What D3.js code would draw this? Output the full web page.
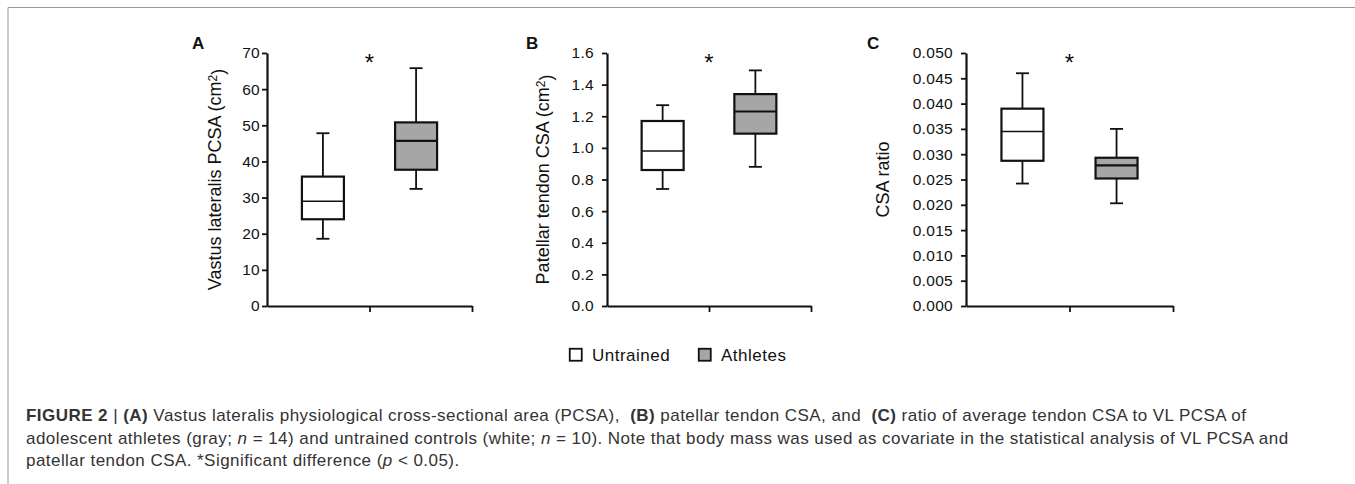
<!DOCTYPE html>
<html>
<head>
<meta charset="utf-8">
<script src="https://cdnjs.cloudflare.com/ajax/libs/d3/7.8.5/d3.min.js"></script>
<style>
  body { margin: 0; background: #fff; }
  svg { display: block; font-family: "Liberation Sans", Arial, sans-serif; }
</style>
</head>
<body>
<svg width="1355" height="484"></svg>
<script>
// box stats per group: [min, q1, median, q3, max]
var groups = ["Untrained", "Athletes"];
var vlPcsaUntrained = [18.6, 24.0, 29.0, 35.8, 47.8];
var vlPcsaAthletes  = [32.4, 37.7, 45.7, 50.8, 65.8];
var tendonUntrained = [0.74, 0.86, 0.98, 1.17, 1.27];
var tendonAthletes  = [0.88, 1.09, 1.23, 1.34, 1.49];
var ratioUntrained  = [0.0242, 0.0287, 0.0345, 0.0390, 0.0460];
var ratioAthletes   = [0.0203, 0.0252, 0.0278, 0.0293, 0.0350];

var vlTicks     = [0, 10, 20, 30, 40, 50, 60, 70];
var tendonTicks = [0, 0.2, 0.4, 0.6, 0.8, 1.0, 1.2, 1.4, 1.6];
var ratioTicks  = [0, 0.005, 0.010, 0.015, 0.020, 0.025, 0.030, 0.035, 0.040, 0.045, 0.050];

var fills = {Untrained: "#ffffff", Athletes: "#a6a6a6"};

var svg = d3.select("svg"),
    yTop = 53, yBottom = 306,
    ink = "#111";

// frame
svg.append("path")
    .attr("d", "M8,484V7.5H1355")
    .attr("fill", "none")
    .attr("stroke", "#9a9a9a")
    .attr("stroke-width", 1);

var panels = [
  {letter: "A", stats: [vlPcsaUntrained, vlPcsaAthletes], ticks: vlTicks, fmt: d3.format("d"),
   title: "Vastus lateralis PCSA (cm", sup: true, x0: 267, x1: 472, titleX: 215, letterX: 192, pad: 2},
  {letter: "B", stats: [tendonUntrained, tendonAthletes], ticks: tendonTicks, fmt: d3.format(".1f"),
   title: "Patellar tendon CSA (cm", sup: true, x0: 607, x1: 811, titleX: 543, letterX: 526, pad: 8},
  {letter: "C", stats: [ratioUntrained, ratioAthletes], ticks: ratioTicks, fmt: d3.format(".3f"),
   title: "CSA ratio", sup: false, x0: 966, x1: 1173, titleX: 883, letterX: 867, pad: 8}
];

panels.forEach(function(p) {
    var g = svg.append("g");

    var y = d3.scaleLinear()
        .domain([0, d3.max(p.ticks)])
        .range([yBottom, yTop]);

    var x = d3.scalePoint()
        .domain(groups)
        .range([p.x0, p.x1])
        .padding(0.6);

    var xAxisScale = d3.scaleLinear().domain([0, 2]).range([p.x0, p.x1]);

    // y axis
    var ya = g.append("g")
        .attr("transform", "translate(" + p.x0 + ",0)")
        .call(d3.axisLeft(y)
            .tickValues(p.ticks)
            .tickFormat(p.fmt)
            .tickSize(5)
            .tickSizeOuter(0)
            .tickPadding(p.pad));
    ya.select(".domain").attr("stroke", ink).attr("stroke-width", 2.2);
    ya.selectAll(".tick line").attr("stroke", ink).attr("stroke-width", 1.8);
    ya.selectAll(".tick text").attr("fill", ink).style("font-size", "15.5px").style("letter-spacing", "0.3px");

    // x axis
    var xa = g.append("g")
        .attr("transform", "translate(0," + yBottom + ")")
        .call(d3.axisBottom(xAxisScale)
            .tickValues([1, 2])
            .tickFormat("")
            .tickSize(6)
            .tickSizeOuter(0));
    xa.select(".domain").attr("stroke", ink).attr("stroke-width", 2.2);
    xa.selectAll(".tick line").attr("stroke", ink).attr("stroke-width", 1.8);

    // boxes
    var boxW = 42, capW = 13;
    groups.forEach(function(grp, i) {
        var s = p.stats[i], cx = x(grp);
        var b = g.append("g");
        b.append("line")
            .attr("x1", cx).attr("x2", cx)
            .attr("y1", y(s[0])).attr("y2", y(s[4]))
            .attr("stroke", ink).attr("stroke-width", 1.8);
        [s[0], s[4]].forEach(function(v) {
            b.append("line")
                .attr("x1", cx - capW / 2).attr("x2", cx + capW / 2)
                .attr("y1", y(v)).attr("y2", y(v))
                .attr("stroke", ink).attr("stroke-width", 1.8);
        });
        b.append("rect")
            .attr("x", cx - boxW / 2)
            .attr("y", y(s[3]))
            .attr("width", boxW)
            .attr("height", y(s[1]) - y(s[3]))
            .attr("fill", fills[grp])
            .attr("stroke", ink).attr("stroke-width", 2.2);
        b.append("line")
            .attr("x1", cx - boxW / 2).attr("x2", cx + boxW / 2)
            .attr("y1", y(s[2])).attr("y2", y(s[2]))
            .attr("stroke", ink).attr("stroke-width", i == 0 ? 1.5 : 2.2);
    });

    // significance mark
    g.append("text")
        .attr("x", xAxisScale(1))
        .attr("y", 71)
        .attr("text-anchor", "middle")
        .attr("fill", ink)
        .style("font-size", "24px")
        .text("*");

    // panel letter
    g.append("text")
        .attr("x", p.letterX)
        .attr("y", 49)
        .attr("fill", ink)
        .style("font-size", "17px")
        .style("font-weight", "bold")
        .text(p.letter);

    // y title
    var t = g.append("text")
        .attr("transform", "translate(" + p.titleX + "," + ((yTop + yBottom) / 2) + ") rotate(-90)")
        .attr("text-anchor", "middle")
        .attr("dy", "0.35em")
        .attr("fill", ink)
        .style("font-size", "18px");
    t.append("tspan").text(p.title);
    if (p.sup) {
        t.append("tspan").attr("dy", "-0.4em").style("font-size", "12px").text("2");
        t.append("tspan").attr("dy", "0.4em").text(")");
    }
});

// legend
var legend = svg.append("g").attr("transform", "translate(569,348)");
var legendX = [0, 129];
groups.forEach(function(grp, i) {
    legend.append("rect")
        .attr("x", legendX[i] + 0.75).attr("y", 0.75)
        .attr("width", 12).attr("height", 12)
        .attr("fill", fills[grp])
        .attr("stroke", ink).attr("stroke-width", 1.8);
    legend.append("text")
        .attr("x", legendX[i] + 23)
        .attr("y", 13)
        .attr("fill", ink)
        .style("font-size", "17px")
        .style("letter-spacing", "0.5px")
        .text(grp);
});

// caption
var captionLines = [
  [["FIGURE 2", "b"], [" | ", ""], ["(A)", "b"], [" Vastus lateralis physiological cross-sectional area (PCSA),  ", ""],
   ["(B)", "b"], [" patellar tendon CSA, and  ", ""], ["(C)", "b"], [" ratio of average tendon CSA to VL PCSA of", ""]],
  [["adolescent athletes (gray; ", ""], ["n", "i"], [" = 14) and untrained controls (white; ", ""], ["n", "i"],
   [" = 10). Note that body mass was used as covariate in the statistical analysis of VL PCSA and", ""]],
  [["patellar tendon CSA. *Significant difference (", ""], ["p", "i"], [" < 0.05).", ""]]
];
var captionY = [421, 443.5, 466];
captionLines.forEach(function(parts, li) {
    var tx = svg.append("text")
        .attr("x", 26)
        .attr("y", captionY[li])
        .attr("fill", "#333")
        .style("font-size", "17px")
        .style("letter-spacing", "0.45px")
        .style("white-space", "pre");
    parts.forEach(function(pt) {
        tx.append("tspan")
            .style("font-weight", pt[1] == "b" ? "bold" : "normal")
            .style("font-style", pt[1] == "i" ? "italic" : "normal")
            .text(pt[0]);
    });
});
</script>
</body>
</html>
